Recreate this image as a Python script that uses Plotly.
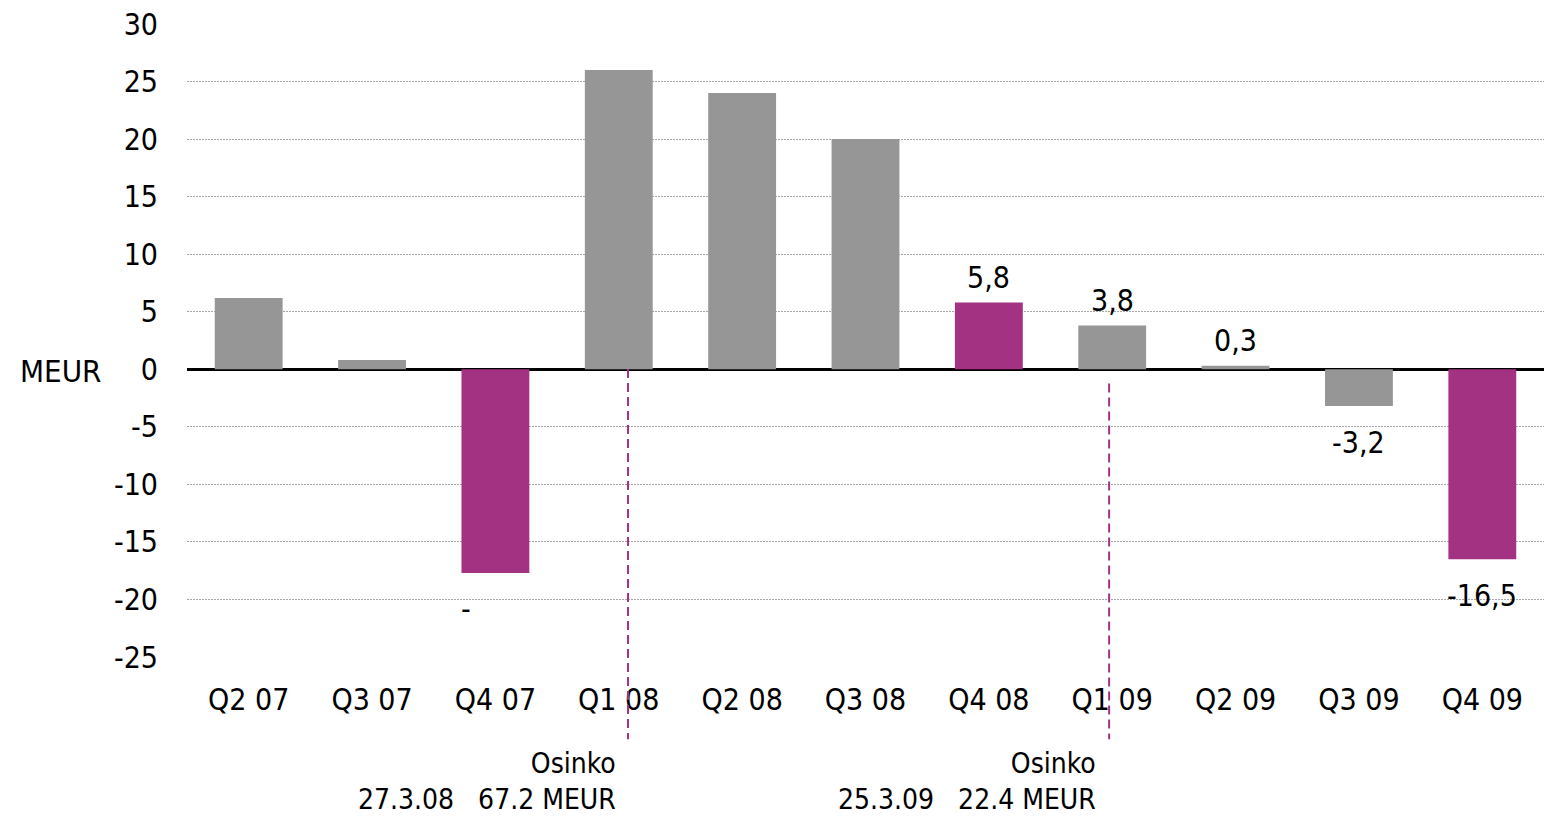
import plotly.graph_objects as go

# Quarterly result, MEUR
quarters = ["Q2 07", "Q3 07", "Q4 07", "Q1 08", "Q2 08", "Q3 08",
            "Q4 08", "Q1 09", "Q2 09", "Q3 09", "Q4 09"]
values = [6.2, 0.8, -17.7, 26.0, 24.0, 20.0, 5.8, 3.8, 0.3, -3.2, -16.5]
labels = ["", "", "-", "", "", "", "5,8", "3,8", "0,3", "-3,2", "-16,5"]
label_xshift = [0, 0, -29, 0, 0, 0, 0, 0, 0, 0, 0]
highlight = [False, False, True, False, False, False, True, False, False, False, True]

# Dividend payments: position on the category axis, date, amount
div_pos = [3.075, 6.975]
div_text_x = [2.997, 6.887]
div_dates = ["27.3.08", "25.3.09"]
div_amounts = ["67.2 MEUR", "22.4 MEUR"]

y_ticks = [30, 25, 20, 15, 10, 5, 0, -5, -10, -15, -20, -25]

GREY = "#969696"
PURPLE = "#a33283"
FONT = "DejaVu Sans Condensed"
FS = 30

W, H = 1544, 816
ML, MR, MT, MB = 187, 0, 24, 159
PLOT_H = H - MT - MB

fig = go.Figure()
fig.add_trace(go.Bar(
    x=quarters,
    y=values,
    marker=dict(color=[PURPLE if h else GREY for h in highlight], line=dict(width=0)),
    hoverinfo="x+y",
))

annotations = []
for q, v, t, xs in zip(quarters, values, labels, label_xshift):
    if not t:
        continue
    annotations.append(dict(
        x=q, y=v, xref="x", yref="y", text=t, showarrow=False,
        yanchor="middle", yshift=25 if v >= 0 else -36, xshift=xs,
        font=dict(family=FONT, size=FS, color="black"),
    ))

# axis unit label at the left edge, level with zero
annotations.append(dict(
    x=(60 - ML) / (W - ML - MR), y=0, xref="paper", yref="y", text="MEUR",
    showarrow=False, xanchor="center", yanchor="middle", yshift=-2,
    font=dict(family=FONT, size=FS + 1, color="black"),
))

shapes = []
for pos, tx, d, amt in zip(div_pos, div_text_x, div_dates, div_amounts):
    shapes.append(dict(
        type="line", xref="x", yref="paper", x0=pos, x1=pos,
        y0=0.455 if pos < 5 else 0.432, y1=-0.13,
        line=dict(color=PURPLE, width=2, dash="9px,5px"),
    ))
    annotations.append(dict(
        x=tx, y=-(781 - (MT + PLOT_H)) / PLOT_H, xref="x", yref="paper",
        text="Osinko<br>" + d + "\u00a0\u00a0\u00a0" + amt, showarrow=False,
        xanchor="right", yanchor="middle", align="right",
        font=dict(family=FONT, size=28, color="black"),
    ))

fig.update_layout(
    width=W, height=H,
    margin=dict(l=ML, r=MR, t=MT, b=MB),
    paper_bgcolor="white", plot_bgcolor="white",
    bargap=0.45,
    showlegend=False,
    font=dict(family=FONT, size=FS, color="black"),
    annotations=annotations,
    shapes=shapes,
)
fig.update_xaxes(
    showgrid=False, showline=False, zeroline=False,
    ticks="", ticklabelstandoff=22,
    tickfont=dict(family=FONT, size=FS, color="black"),
)
fig.update_yaxes(
    range=[-25, 30], tickvals=y_ticks, ticktext=[str(v) for v in y_ticks],
    showgrid=True, gridcolor="#a6a6a6", gridwidth=1, griddash="2px,1px",
    zeroline=True, zerolinecolor="black", zerolinewidth=3,
    showline=False, ticks="", ticklabelstandoff=28,
    tickfont=dict(family=FONT, size=FS, color="black"),
)

fig.write_html("out.html")
